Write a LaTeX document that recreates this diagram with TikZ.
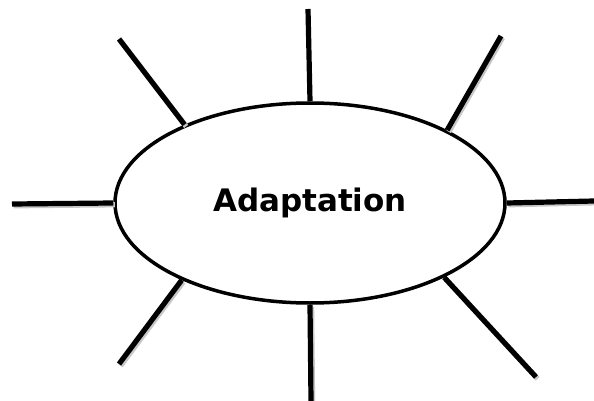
\documentclass[tikz,border=0pt]{standalone}
\usepackage{fontspec}
\setmainfont{DejaVu Sans}
\usetikzlibrary{shapes.geometric}

\begin{document}
\begin{tikzpicture}[
    x=1pt, y=-1pt,
    hub/.style={ellipse, draw, line width=3.5pt, minimum width=390pt,
                minimum height=200pt, inner sep=0pt,
                font=\bfseries\fontsize{31}{36}\selectfont},
    spoke/.style={line width=5.2pt},
    shade/.style={line width=5.2pt, black!22,
                  transform canvas={shift={(1.6pt,-1.8pt)}}}
]
\useasboundingbox (0,0) rectangle (594,401);

%% centre node
\node[hub] (adapt) at (310,203) {\raisebox{-4pt}{Adaptation}};

%% free ends of the spokes
\coordinate (top)   at (308,9);
\coordinate (topl)  at (119,39);
\coordinate (topr)  at (501,36);
\coordinate (left)  at (12,204);
\coordinate (right) at (594,201);
\coordinate (botl)  at (119,364);
\coordinate (bot)   at (311,401);
\coordinate (botr)  at (536,377);

%% grey shadows first
\draw[shade] (adapt.148)   -- (topl);
\draw[shade] (adapt.28)    -- (topr);
\draw[shade] (adapt.west)  -- (left);
\draw[shade] (adapt.east)  -- (right);
\draw[shade] (adapt.211)   -- (botl);
\draw[shade] (adapt.south) -- (bot);
\draw[shade] (adapt.331)   -- (botr);

%% spokes
\draw[spoke] (adapt.north) -- (top);
\draw[spoke] (adapt.148)   -- (topl);
\draw[spoke] (adapt.28)    -- (topr);
\draw[spoke] (adapt.west)  -- (left);
\draw[spoke] (adapt.east)  -- (right);
\draw[spoke] (adapt.211)   -- (botl);
\draw[spoke] (adapt.south) -- (bot);
\draw[spoke] (adapt.331)   -- (botr);

\end{tikzpicture}
\end{document}
